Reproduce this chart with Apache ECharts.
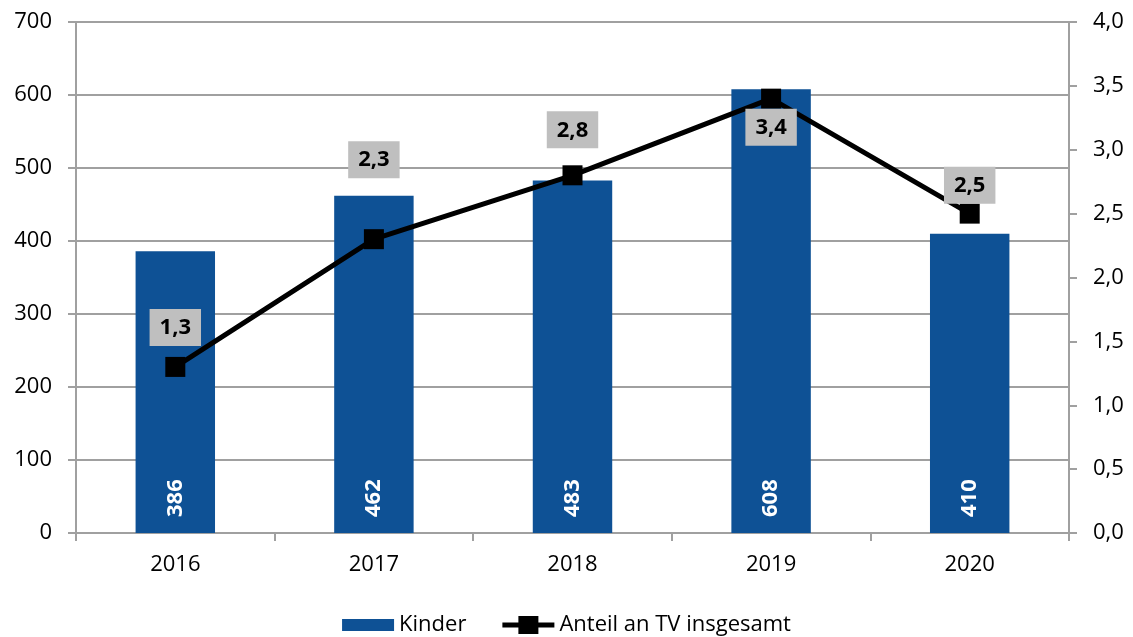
<!DOCTYPE html>
<html>
<head>
<meta charset="utf-8">
<script src="https://cdn.jsdelivr.net/npm/echarts@6/dist/echarts.min.js"></script>
<style>
  html, body { margin: 0; padding: 0; background: #fff; }
  #chart { width: 1133px; height: 637px; }
</style>
</head>
<body>
<div id="chart"></div>
<script>
// Daten
var jahre = ['2016', '2017', '2018', '2019', '2020'];
var kinder = [386, 462, 483, 608, 410];
var anteil = [1.3, 2.3, 2.8, 3.4, 2.5];
// Lage der Beschriftungen (oben/unten, Abstand)
var labelPos = ['top', 'top', 'top', 'bottom', 'top'];
var labelDist = [11, 51, 17, 0, 0];

function komma(v, n) {
  return v.toFixed(n).replace('.', ',');
}

var myChart = echarts.init(document.getElementById('chart'));

var option = {
  textStyle: { fontFamily: 'Open Sans' },
  animation: false,
  grid: { left: 76, right: 64, top: 22, bottom: 104 },
  legend: {
    bottom: -4,
    left: 'center',
    itemWidth: 52,
    itemHeight: 18,
    itemGap: 36,
    textStyle: { fontSize: 22, color: '#000', fontFamily: 'Open Sans' },
    data: [
      { name: 'Kinder', icon: 'path://M0,0 M0,3 H52 V15 H0 Z M52,18' },
      { name: 'Anteil an TV insgesamt', icon: 'path://M0,6.5 H16 V0 H36 V6.5 H52 V11.5 H36 V18 H16 V11.5 H0 Z' }
    ]
  },
  xAxis: {
    type: 'category',
    data: jahre,
    axisLine: { lineStyle: { color: '#a0a0a0', width: 2 } },
    axisTick: { show: true, length: 8, lineStyle: { color: '#a0a0a0', width: 2 } },
    axisLabel: { fontSize: 22, color: '#000', margin: 21 }
  },
  yAxis: [
    {
      type: 'value',
      min: 0, max: 700, interval: 100,
      axisLine: { show: true, lineStyle: { color: '#a0a0a0', width: 2 } },
      axisTick: { show: true, length: 8, lineStyle: { color: '#a0a0a0', width: 2 } },
      axisLabel: { fontSize: 22, color: '#000', margin: 24 },
      splitLine: { lineStyle: { color: '#a0a0a0', width: 2 } }
    },
    {
      type: 'value',
      min: 0, max: 4, interval: 0.5,
      position: 'right',
      axisLine: { show: true, lineStyle: { color: '#a0a0a0', width: 2 } },
      axisTick: { show: true, length: 8, lineStyle: { color: '#a0a0a0', width: 2 } },
      axisLabel: {
        fontSize: 22, color: '#000', margin: 24,
        formatter: function (v) { return komma(v, 1); }
      },
      splitLine: { show: false }
    }
  ],
  series: [
    {
      name: 'Kinder',
      type: 'bar',
      barWidth: '40%',
      itemStyle: { color: '#0e5195' },
      label: {
        show: true,
        position: 'insideBottom',
        rotate: 90,
        distance: 16,
        color: '#fff',
        fontWeight: 'bold',
        fontSize: 22,
        align: 'left',
        verticalAlign: 'middle'
      },
      data: kinder
    },
    {
      name: 'Anteil an TV insgesamt',
      type: 'line',
      yAxisIndex: 1,
      symbol: 'rect',
      symbolSize: 20,
      itemStyle: { color: '#000' },
      lineStyle: { color: '#000', width: 5 },
      z: 5,
      data: anteil.map(function (v, i) {
        return {
          value: v,
          label: {
            show: true,
            position: labelPos[i],
            distance: labelDist[i],
            formatter: function (p) { return komma(p.value, 1); },
            color: '#000',
            fontWeight: 'bold',
            fontSize: 22,
            backgroundColor: '#bfbfbf',
            padding: [8, 10, 7, 10]
          }
        };
      })
    }
  ]
};

myChart.setOption(option);
</script>
</body>
</html>
